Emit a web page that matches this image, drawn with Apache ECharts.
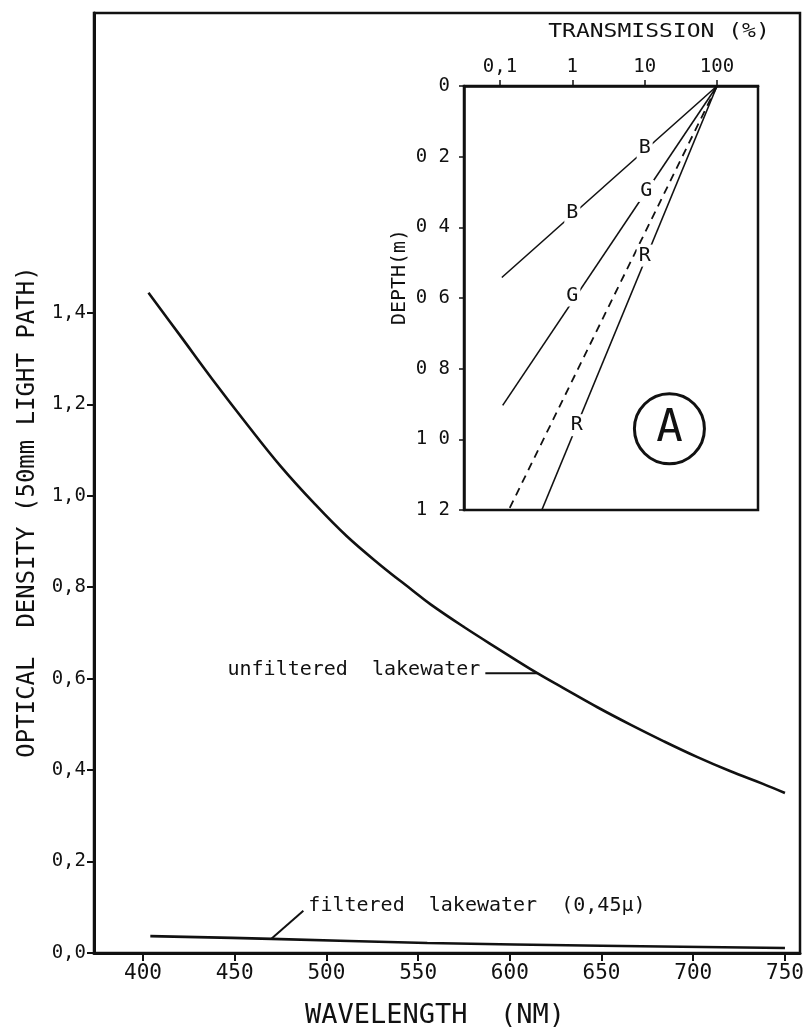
<!DOCTYPE html>
<html>
<head>
<meta charset="utf-8">
<script src="https://cdn.jsdelivr.net/npm/echarts@6/dist/echarts.min.js"></script>
<style>
  html, body { margin: 0; padding: 0; background: #fff; }
  #chart { width: 804px; height: 1029px; }
</style>
</head>
<body>
<div id="chart"></div>
<script>
// Optical density spectra of lake water (main plot)
const wavelengthUnfiltered = [403, 420, 438, 457, 475, 493, 511, 529, 547, 557, 575, 593, 615, 629, 648, 666, 684, 702, 720, 738, 750];
const densityUnfiltered = [1.444, 1.352, 1.254, 1.155, 1.065, 0.985, 0.912, 0.850, 0.793, 0.762, 0.713, 0.667, 0.612, 0.580, 0.537, 0.499, 0.463, 0.429, 0.398, 0.370, 0.350];
const wavelengthFiltered = [404, 470, 555, 650, 750];
const densityFiltered = [0.037, 0.031, 0.022, 0.016, 0.011];

const wavelengthTicks = [400, 450, 500, 550, 600, 650, 700, 750];
const densityTicks = [0, 0.2, 0.4, 0.6, 0.8, 1.0, 1.2, 1.4];

// Inset A: light transmission (%) against depth (m) for blue, green and red
const transmissionB = [100, 0.106];
const depthB = [0, 0.542];
const transmissionG = [100, 0.109];
const depthG = [0, 0.904];
const transmissionR = [100, 0.379];
const depthR = [0, 1.2];
const transmissionDashed = [100, 0.132];
const depthDashed = [0, 1.2];

const curveLetters = ['B', 'B', 'G', 'G', 'R', 'R'];
const letterTransmission = [10, 1, 10.5, 1, 10, 1.15];
const letterDepth = [0.175, 0.36, 0.297, 0.593, 0.48, 0.96];

const transmissionTicks = [0.1, 1, 10, 100];
const transmissionTickLabels = ['0,1', '1', '10', '100'];
const depthTickLabels = ['0', '0 2', '0 4', '0 6', '0 8', '1 0', '1 2'];

const MONO = '"DejaVu Sans Mono", "Liberation Mono", monospace';
const INK = '#111';

const zip = (xs, ys) => xs.map((x, i) => [x, ys[i]]);

const chart = echarts.init(document.getElementById('chart'), null, { renderer: 'canvas' });

const lineSeries = (name, xs, ys, axis, width, dash) => ({
  name,
  type: 'line',
  xAxisIndex: axis,
  yAxisIndex: axis,
  data: zip(xs, ys),
  showSymbol: false,
  symbol: 'none',
  smooth: axis === 0 ? 0.4 : false,
  silent: true,
  lineStyle: { color: INK, width, type: dash || 'solid' },
  z: 4
});

chart.setOption({
  animation: false,
  backgroundColor: '#fff',
  grid: [
    { left: 94, right: 4, top: 13, bottom: 76, show: true, borderColor: INK, borderWidth: 2.5, outerBoundsMode: 'none' },
    { left: 464, right: 46, top: 86, bottom: 519, show: true, borderColor: INK, borderWidth: 2.5, outerBoundsMode: 'none' }
  ],
  xAxis: [
    {
      type: 'value', gridIndex: 0, min: 373.3, max: 758.2,
      splitLine: { show: false },
      axisLine: { onZero: false, lineStyle: { color: INK, width: 3 } },
      axisTick: { customValues: wavelengthTicks, length: 8, lineStyle: { color: INK, width: 2 } },
      axisLabel: { customValues: wavelengthTicks, color: INK, fontFamily: MONO, fontSize: 21, margin: 10 }
    },
    {
      type: 'log', logBase: 10, gridIndex: 1, position: 'top', min: 0.0318, max: 369,
      splitLine: { show: false },
      axisLine: { onZero: false, lineStyle: { color: INK, width: 2.5 } },
      axisTick: { customValues: transmissionTicks, length: 6, lineStyle: { color: INK, width: 1.5 } },
      axisLabel: {
        customValues: transmissionTicks, color: INK, fontFamily: MONO, fontSize: 19, margin: 9,
        formatter: v => transmissionTickLabels[Math.round(Math.log10(v)) + 1]
      }
    }
  ],
  yAxis: [
    {
      type: 'value', gridIndex: 0, min: 0, max: 2.056,
      splitLine: { show: false },
      axisLine: { onZero: false, lineStyle: { color: INK, width: 3 } },
      axisTick: { customValues: densityTicks, length: 7, lineStyle: { color: INK, width: 2 } },
      axisLabel: {
        customValues: densityTicks, color: INK, fontFamily: MONO, fontSize: 19, margin: 8,
        formatter: v => v.toFixed(1).replace('.', ',')
      }
    },
    {
      type: 'value', gridIndex: 1, min: 0, max: 1.2, interval: 0.2, inverse: true,
      splitLine: { show: false },
      axisLine: { onZero: false, lineStyle: { color: INK, width: 2.5 } },
      axisTick: { length: 5, lineStyle: { color: INK, width: 1.5 } },
      axisLabel: {
        color: INK, fontFamily: MONO, fontSize: 19, margin: 14,
        formatter: v => depthTickLabels[Math.round(v / 0.2)]
      }
    }
  ],
  series: [
    lineSeries('unfiltered lakewater', wavelengthUnfiltered, densityUnfiltered, 0, 2.6),
    lineSeries('filtered lakewater', wavelengthFiltered, densityFiltered, 0, 2.6),
    lineSeries('B', transmissionB, depthB, 1, 1.6),
    lineSeries('G', transmissionG, depthG, 1, 1.6),
    lineSeries('R', transmissionR, depthR, 1, 1.6),
    lineSeries('dashed', transmissionDashed, depthDashed, 1, 1.8, [8, 6]),
    {
      name: 'letters',
      type: 'scatter',
      xAxisIndex: 1,
      yAxisIndex: 1,
      symbol: 'circle',
      symbolSize: 0.1,
      silent: true,
      itemStyle: { color: '#fff', opacity: 1 },
      z: 6,
      label: {
        show: true, position: 'inside', formatter: p => p.name,
        color: INK, opacity: 1, fontFamily: MONO, fontSize: 20,
        backgroundColor: '#fff', padding: [1, 2]
      },
      data: curveLetters.map((l, i) => ({ name: l, value: [letterTransmission[i], letterDepth[i]] }))
    }
  ]
});

// Annotations, placed from data coordinates
const px = (grid, pt) => chart.convertToPixel({ gridIndex: grid }, pt);
const txt = (text, x, y, size, align, extra) => Object.assign({
  type: 'text', x, y, z: 10,
  style: { text, fill: INK, font: size + 'px ' + MONO, align: align || 'center', verticalAlign: 'middle' }
}, extra || {});

const pU = px(0, [615, 0.612]);
const pF = px(0, [470, 0.031]);
const pA = px(1, [22, 0.97]);

chart.setOption({
  graphic: [
    { type: 'line', z: 10, shape: { x1: pU[0] - 52, y1: pU[1], x2: pU[0], y2: pU[1] }, style: { stroke: INK, lineWidth: 2 } },
    txt('unfiltered  lakewater', pU[0] - 57, pU[1] - 3, 20, 'right'),
    { type: 'line', z: 10, shape: { x1: pF[0], y1: pF[1], x2: pF[0] + 32, y2: pF[1] - 28 }, style: { stroke: INK, lineWidth: 2 } },
    txt('filtered  lakewater  (0,45\u00b5)', pF[0] + 37, pF[1] - 33, 20, 'left'),
    { type: 'circle', z: 10, shape: { cx: pA[0], cy: pA[1], r: 35 }, style: { fill: 'none', stroke: INK, lineWidth: 3 } },
    txt('A', pA[0], pA[1] + 1, 44, 'center'),
    txt('WAVELENGTH  (NM)', 435, 1016, 27, 'center'),
    txt('OPTICAL  DENSITY (50mm LIGHT PATH)', 28, 512, 24, 'center', { rotation: Math.PI / 2 }),
    txt('TRANSMISSION (%)', 659, 32, 20, 'center', { scaleX: 1.15 }),
    txt('DEPTH(m)', 400, 277, 19, 'center', { rotation: Math.PI / 2, scaleX: 1.05 })
  ]
});
</script>
</body>
</html>
